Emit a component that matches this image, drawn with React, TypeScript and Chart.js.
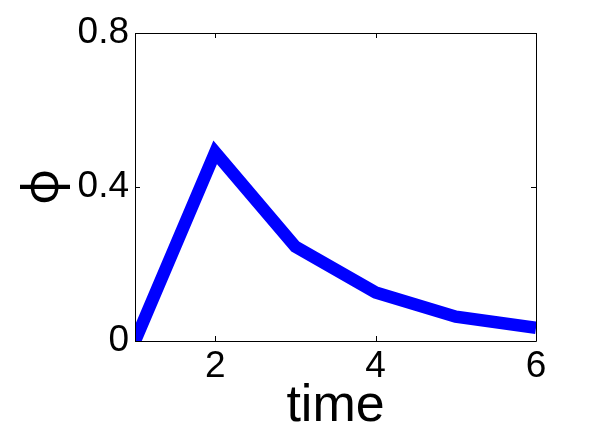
import React, { useEffect, useRef } from "react";
import { Chart, registerables } from "chart.js";

Chart.register(...registerables);

const timeValues = [1, 2, 3, 4, 5, 6];
const phiValues = [0, 0.49, 0.245, 0.126, 0.063, 0.034];
const xTicks = [2, 4, 6];
const yTicks = [0, 0.4, 0.8];
const xTitle = "time";
const yTitle = "ϕ";

const FONT = "'Liberation Sans', Arial, Helvetica, sans-serif";

const boxPlugin = {
  id: "matlabBox",
  afterDatasetsDraw(chart: any) {
    const { ctx, chartArea, scales } = chart;
    const { left, right, top, bottom } = chartArea;
    const tl = 5;
    ctx.save();
    ctx.strokeStyle = "#000";
    ctx.lineWidth = 1;
    ctx.beginPath();
    ctx.rect(Math.round(left) + 0.5, Math.round(top) + 0.5, Math.round(right - left), Math.round(bottom - top));
    for (const v of xTicks) {
      const x = Math.round(scales.x.getPixelForValue(v)) + 0.5;
      ctx.moveTo(x, bottom);
      ctx.lineTo(x, bottom - tl);
      ctx.moveTo(x, top);
      ctx.lineTo(x, top + tl);
    }
    for (const v of yTicks) {
      const y = Math.round(scales.y.getPixelForValue(v)) + 0.5;
      ctx.moveTo(left, y);
      ctx.lineTo(left + tl, y);
      ctx.moveTo(right, y);
      ctx.lineTo(right - tl, y);
    }
    ctx.stroke();
    ctx.restore();
  },
};

export default function App() {
  const ref = useRef<HTMLCanvasElement>(null);
  useEffect(() => {
    if (!ref.current) return;
    const chart = new Chart(ref.current, {
      type: "line",
      data: {
        datasets: [
          {
            data: timeValues.map((t, i) => ({ x: t, y: phiValues[i] })),
            borderColor: "#0000ff",
            borderWidth: 12.5,
            pointRadius: 0,
            tension: 0,
            clip: 0,
          } as any,
        ],
      },
      options: {
        responsive: false,
        animation: false,
        events: [],
        layout: { padding: { left: 0, right: 56, top: 33, bottom: 0 } },
        plugins: { legend: { display: false }, tooltip: { enabled: false } },
        scales: {
          x: {
            type: "linear",
            min: 1,
            max: 6,
            afterBuildTicks: (s: any) => {
              s.ticks = xTicks.map((v) => ({ value: v }));
            },
            afterFit: (s: any) => {
              s.height = 102;
            },
            grid: { display: false, drawTicks: false },
            border: { display: false },
            ticks: {
              color: "#000",
              padding: 4,
              maxRotation: 0,
              font: { family: FONT, size: 37 },
              callback: (v: any) => String(v),
            },
            title: {
              display: true,
              text: xTitle,
              color: "#000",
              font: { family: FONT, size: 52 },
              padding: { top: 0, bottom: 5 },
            },
          },
          y: {
            type: "linear",
            min: 0,
            max: 0.8,
            afterBuildTicks: (s: any) => {
              s.ticks = yTicks.map((v) => ({ value: v }));
            },
            afterFit: (s: any) => {
              s.width = 135;
            },
            grid: { display: false, drawTicks: false },
            border: { display: false },
            ticks: {
              color: "#000",
              padding: 6,
              font: { family: FONT, size: 37 },
              callback: (v: any) => String(v),
            },
            title: {
              display: true,
              text: yTitle,
              color: "#000",
              font: { family: "'Noto Sans', 'DejaVu Sans', sans-serif", size: 50 },
              padding: { top: 14, bottom: 0 },
            },
          },
        },
      },
      plugins: [boxPlugin],
    });
    return () => chart.destroy();
  }, []);
  return (
    <div style={{ position: "fixed", left: 0, top: 0, width: 592, height: 443, background: "#fff" }}>
      <canvas ref={ref} width={592} height={443} />
    </div>
  );
}
